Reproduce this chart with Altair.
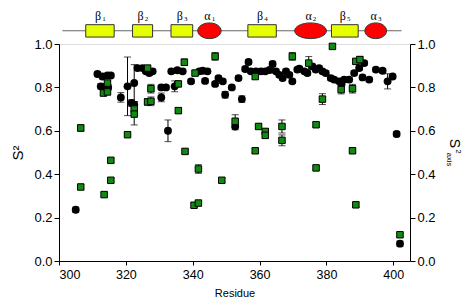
import altair as alt
import pandas as pd

# ---- S2 (black circles): residue, value, error ----
s2_res = [305, 311.5, 313, 314.5, 315.5, 312.5, 313.5, 314.7, 318.5, 320.5, 321.7, 322.5, 322.5,
          323.5, 325, 326, 327, 328, 330.6, 332, 330.6, 332.6, 333.6, 335.4, 337, 334.6, 339.5,
          342, 343, 344.4, 343.7, 346.7, 347.7, 349, 349.7, 351.7, 353.7, 354.7, 352.7, 355.7,
          356.7, 357.4, 358.9, 360.4, 361.7, 363, 363.9, 364.9, 365.9, 366.9, 367.9, 368.9,
          369.8, 371.3, 371.9, 373.4, 374.3, 375.8, 376.8, 377.8, 378.8, 379.8, 381.3, 382.3,
          383.8, 385.3, 386.8, 384.5, 388.3, 389.8, 391.3, 390.8, 392.8, 394.8, 396.8, 398.3,
          399.8, 401, 402]
s2_val = [0.236, 0.862, 0.85, 0.855, 0.855, 0.805, 0.80, 0.80, 0.754, 0.805, 0.728, 0.82, 0.72,
          0.889, 0.889, 0.874, 0.866, 0.874, 0.80, 0.80, 0.754, 0.60, 0.874, 0.879, 0.874, 0.805, 0.828,
          0.874, 0.877, 0.874, 0.83, 0.816, 0.843, 0.828, 0.766, 0.80, 0.843, 0.746, 0.62, 0.885,
          0.917, 0.874, 0.874, 0.874, 0.874, 0.88, 0.908, 0.874, 0.858, 0.843, 0.874, 0.858,
          0.828, 0.882, 0.886, 0.874, 0.866, 0.897, 0.882, 0.889, 0.874, 0.866, 0.843, 0.836,
          0.828, 0.836, 0.836, 0.815, 0.866, 0.889, 0.912, 0.846, 0.836, 0.882, 0.877, 0.828,
          0.85, 0.585, 0.08]
s2_err = [0.012, 0.01, 0.01, 0.01, 0.01, 0.012, 0.012, 0.012, 0.022, 0.135, 0.015, 0.085, 0.015,
          0.01, 0.01, 0.01, 0.01, 0.01, 0.01, 0.01, 0.02, 0.05, 0.01, 0.01, 0.01, 0.025, 0.01,
          0.01, 0.01, 0.01, 0.01, 0.01, 0.01, 0.01, 0.015, 0.01, 0.01, 0.015, 0.015, 0.01,
          0.01, 0.01, 0.01, 0.01, 0.01, 0.01, 0.012, 0.01, 0.01, 0.01, 0.01, 0.01,
          0.01, 0.01, 0.01, 0.01, 0.01, 0.01, 0.01, 0.01, 0.01, 0.01, 0.01, 0.01,
          0.01, 0.01, 0.01, 0.01, 0.01, 0.01, 0.01, 0.01, 0.01, 0.01, 0.01, 0.035,
          0.01, 0.012, 0.012]

# ---- S2axis (green squares): residue, value, error ----
ax_res = [306.5, 306.5, 313.5, 315.5, 315.5, 313.3, 314.5, 314.5, 320.5, 322.5, 322.5, 326.5,
          326.5, 327.5, 327.5, 335.7, 335.7, 337.5, 337.7, 340.7, 340.4, 341.7, 341.7, 346.7,
          348.7, 352.7, 358.7, 358.7, 359.7, 361.7, 361.7, 366.7, 366.7, 369.8, 374.7, 376.9,
          376.9, 378.8, 381.8, 384.4, 387.8, 387.8, 388.8, 390, 388.8, 402]
ax_val = [0.613, 0.341, 0.306, 0.372, 0.464, 0.774, 0.779, 0.82, 0.582, 0.70, 0.677, 0.889,
          0.733, 0.736, 0.794, 0.693, 0.816, 0.916, 0.505, 0.866, 0.257, 0.267, 0.424, 0.943,
          0.372, 0.644, 0.85, 0.508, 0.62, 0.597, 0.579, 0.62, 0.556, 0.943, 0.912, 0.628,
          0.429, 0.746, 0.989, 0.79, 0.794, 0.508, 0.92, 0.928, 0.259, 0.121]
ax_err = [0.015, 0.01, 0.01, 0.01, 0.01, 0.012, 0.012, 0.01, 0.01, 0.015, 0.05, 0.01,
          0.015, 0.02, 0.02, 0.012, 0.012, 0.015, 0.01, 0.01, 0.01, 0.01, 0.02, 0.018,
          0.01, 0.03, 0.01, 0.01, 0.012, 0.012, 0.012, 0.03, 0.025, 0.018, 0.03, 0.01,
          0.01, 0.025, 0.01, 0.02, 0.02, 0.01, 0.012, 0.015, 0.01, 0.01]

# ---- secondary structure ----
ss_letter = ["β", "β", "β", "α", "β", "α", "β", "α"]
ss_num = ["1", "2", "3", "1", "4", "2", "5", "3"]
ss_type = ["strand", "strand", "strand", "helix", "strand", "helix", "strand", "helix"]
ss_start = [308, 322, 333.5, 341.5, 356.5, 370.5, 381.5, 391.5]
ss_end = [316.5, 328, 340, 348.5, 365, 380, 389.5, 398]
ss_span = [301, 402.5]

W, H = 351, 217
X_DOM = [300, 405]
PX = W / (X_DOM[1] - X_DOM[0])
Y_LINE, Y_LO, Y_HI, Y_LAB = 1.061, 1.032, 1.089, 1.131
ELL_H = 15.7
FONT = "Liberation Sans"
SERIF = "Liberation Serif"

s2 = pd.DataFrame({"res": s2_res, "val": s2_val, "err": s2_err})
s2["lo"] = s2.val - s2.err
s2["hi"] = s2.val + s2.err
ax = pd.DataFrame({"res": ax_res, "val": ax_val, "err": ax_err})
ax["lo"] = ax.val - ax.err
ax["hi"] = ax.val + ax.err

ss = pd.DataFrame({"letter": ss_letter, "num": ss_num, "type": ss_type,
                   "start": ss_start, "end": ss_end})
ss["mid"] = (ss.start + ss.end) / 2
ss["ylo"] = Y_LO
ss["yhi"] = Y_HI
ss["ymid"] = Y_LINE
ss["ylab"] = Y_LAB
hel = ss[ss.type == "helix"].copy()
wpx = (hel.end - hel.start) * PX
hel["size"] = wpx ** 2
hel["shape"] = [f"M -1 0 A 1 {ELL_H / w:.3f} 0 1 1 1 0 A 1 {ELL_H / w:.3f} 0 1 1 -1 0 Z" for w in wpx]
strand = ss[ss.type == "strand"]
line_df = pd.DataFrame({"x1": [ss_span[0]], "x2": [ss_span[1]], "y": [Y_LINE]})

xs = alt.Scale(domain=X_DOM, nice=False, zero=False)
ys = alt.Scale(domain=[0, 1], nice=False, zero=False)

x_axis = alt.Axis(values=[300, 320, 340, 360, 380, 400], title="Residue", grid=False,
                  labelFontSize=12.5, labelFont=FONT, labelColor="black",
                  titleFontSize=11, titleFont=FONT, titleFontWeight="normal", titleColor="black",
                  tickSize=4, tickColor="black", domainColor="black", labelPadding=3, titlePadding=7)
yl_axis = alt.Axis(values=[0, 0.2, 0.4, 0.6, 0.8, 1.0], format=".1f", title="S²", grid=False,
                   labelFontSize=13, labelFont=FONT, labelColor="black",
                   titleFontSize=15, titleFont=FONT, titleFontWeight="normal", titleColor="black",
                   tickSize=5, tickColor="black", domainColor="black", labelPadding=2, titlePadding=8)
yr_axis = alt.Axis(orient="right", values=[0, 0.2, 0.4, 0.6, 0.8, 1.0], format=".1f", title=None,
                   grid=False, labelFontSize=13, labelFont=FONT, labelColor="black",
                   tickSize=5, tickColor="black", domainColor="black", labelPadding=2)

# diagram
d_line = alt.Chart(line_df).mark_rule(color="#666666", strokeWidth=1.2).encode(
    x=alt.X("x1:Q", scale=xs, axis=x_axis), x2="x2:Q",
    y=alt.Y("y:Q", scale=ys, axis=yl_axis))
d_rect = alt.Chart(strand).mark_rect(fill="#e6ff00", stroke="#333333", strokeWidth=1).encode(
    x=alt.X("start:Q", scale=xs), x2="end:Q",
    y=alt.Y("ylo:Q", scale=ys), y2="yhi:Q")
d_ell = alt.Chart(hel).mark_point(filled=True, fill="#ff0000", stroke="#333333", strokeWidth=1,
                                  opacity=1).encode(
    x=alt.X("mid:Q", scale=xs), y=alt.Y("ymid:Q", scale=ys),
    shape=alt.Shape("shape:N", scale=None), size=alt.Size("size:Q", scale=None))
d_lab = alt.Chart(ss).mark_text(font=SERIF, fontSize=12, baseline="middle", dx=-2,
                                color="black").encode(
    x=alt.X("mid:Q", scale=xs), y=alt.Y("ylab:Q", scale=ys), text="letter:N")
d_num = alt.Chart(ss).mark_text(font=SERIF, fontSize=7, baseline="middle", dx=4, dy=3.5,
                                color="black").encode(
    x=alt.X("mid:Q", scale=xs), y=alt.Y("ylab:Q", scale=ys), text="num:N")

# S2 layer
s2_bar = alt.Chart(s2).mark_rule(color="black", strokeWidth=1).encode(
    x=alt.X("res:Q", scale=xs), y=alt.Y("lo:Q", scale=ys), y2="hi:Q")
s2_cap1 = alt.Chart(s2).mark_tick(color="black", orient="horizontal", size=7, thickness=1).encode(
    x=alt.X("res:Q", scale=xs), y=alt.Y("lo:Q", scale=ys))
s2_cap2 = alt.Chart(s2).mark_tick(color="black", orient="horizontal", size=7, thickness=1).encode(
    x=alt.X("res:Q", scale=xs), y=alt.Y("hi:Q", scale=ys))
s2_pt = alt.Chart(s2).mark_point(shape="circle", filled=True, color="black", size=62,
                                 opacity=1).encode(
    x=alt.X("res:Q", scale=xs), y=alt.Y("val:Q", scale=ys))

left = alt.layer(d_line, d_rect, d_ell, d_lab, d_num, s2_bar, s2_cap1, s2_cap2, s2_pt)

# S2axis layer (right axis)
ax_bar = alt.Chart(ax).mark_rule(color="black", strokeWidth=1).encode(
    x=alt.X("res:Q", scale=xs), y=alt.Y("lo:Q", scale=ys, axis=yr_axis), y2="hi:Q")
ax_cap1 = alt.Chart(ax).mark_tick(color="black", orient="horizontal", size=7, thickness=1).encode(
    x=alt.X("res:Q", scale=xs), y=alt.Y("lo:Q", scale=ys))
ax_cap2 = alt.Chart(ax).mark_tick(color="black", orient="horizontal", size=7, thickness=1).encode(
    x=alt.X("res:Q", scale=xs), y=alt.Y("hi:Q", scale=ys))
ax_pt = alt.Chart(ax).mark_point(shape="square", filled=True, fill="#128a12", stroke="black",
                                 strokeWidth=1, size=42, opacity=1).encode(
    x=alt.X("res:Q", scale=xs), y=alt.Y("val:Q", scale=ys))

right = alt.layer(ax_bar, ax_cap1, ax_cap2, ax_pt)

# right-axis title S2 with subscript "axis"
t_s = alt.Chart(pd.DataFrame({"t": ["S"]})).mark_text(font=FONT, fontSize=14, angle=90,
                                                       baseline="middle", align="center").encode(
    x=alt.value(W + 44), y=alt.value(H / 2 - 9), text="t:N")
t_2 = alt.Chart(pd.DataFrame({"t": ["2"]})).mark_text(font=FONT, fontSize=8, angle=90,
                                                       baseline="middle", align="center").encode(
    x=alt.value(W + 48), y=alt.value(H / 2 - 1), text="t:N")
t_axis = alt.Chart(pd.DataFrame({"t": ["axis"]})).mark_text(font=FONT, fontSize=7.5, angle=90,
                                                             baseline="middle", align="center").encode(
    x=alt.value(W + 38.5), y=alt.value(H / 2 + 7), text="t:N")

chart = alt.layer(left, right, t_s, t_2, t_axis).resolve_scale(y="independent").properties(
    width=W, height=H,
    autosize=alt.AutoSizeParams(type="none"),
    padding={"left": 51, "top": 36, "right": 52, "bottom": 40}
).configure_view(stroke="black", strokeWidth=1).configure(background="white")

chart.save("out.html", embed_options={"renderer": "svg", "actions": False})
